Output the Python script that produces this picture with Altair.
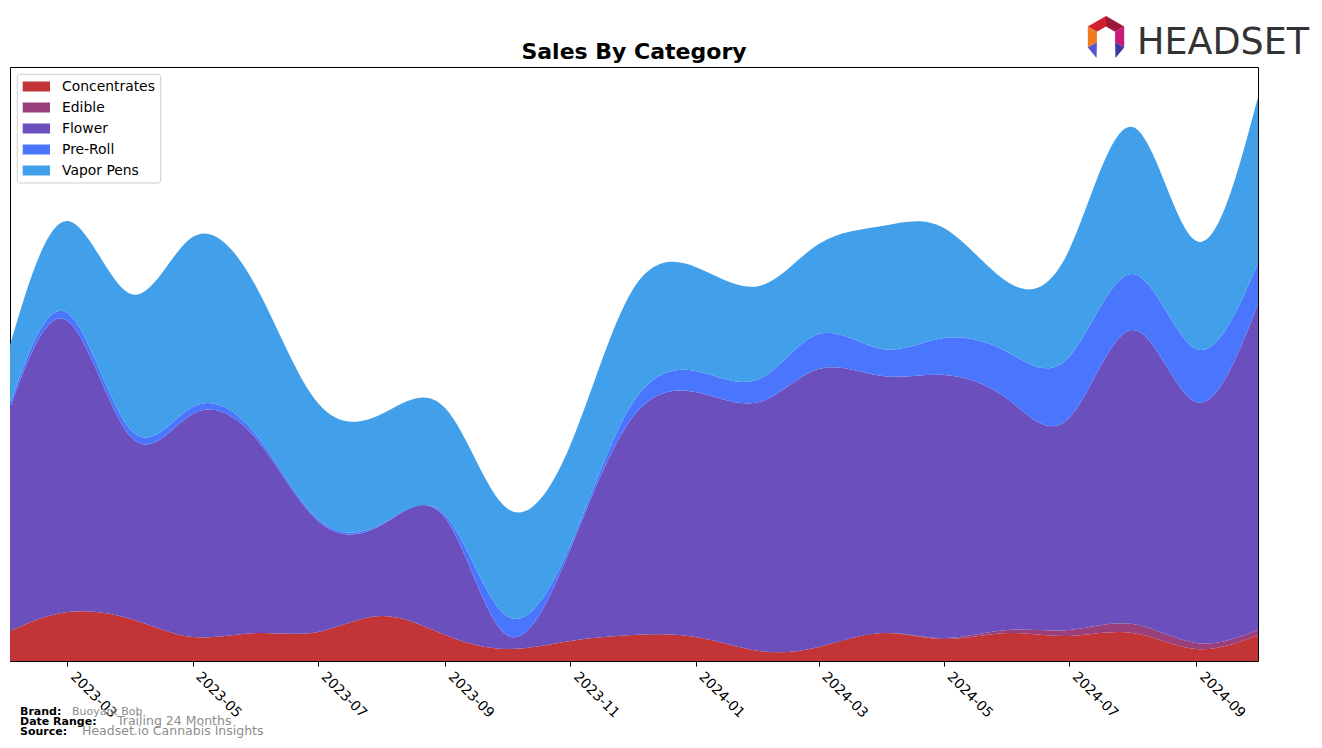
import altair as alt
import pandas as pd

# ---------------- data (pixel-height units) -------------
months = [
    "2023-02-01", "2023-03-01", "2023-04-01", "2023-05-01", "2023-06-01", "2023-07-01",
    "2023-08-01", "2023-09-01", "2023-10-01", "2023-11-01", "2023-12-01", "2024-01-01",
    "2024-02-01", "2024-03-01", "2024-04-01", "2024-05-01", "2024-06-01", "2024-07-01",
    "2024-08-01", "2024-09-01", "2024-10-01",
]
categories = ["Concentrates", "Edible", "Flower", "Pre-Roll", "Vapor Pens"]
concentrates = [30, 49, 42, 24, 28, 29, 45, 26, 12, 20, 26, 24, 10, 14, 28, 22, 28, 25, 28, 12, 26]
edible = [0, 0, 0, 0, 0, 0, 0, 0, 0, 0, 0, 0, 0, 0, 0, 1, 3, 6, 9, 6, 5]
flower = [223, 291, 182, 223, 194, 111, 91, 117, 14, 92, 217, 245, 249, 278, 257, 263, 231, 212, 294, 241, 326]
pre_roll = [4, 8, 7, 7, 4, 2, 1, 3, 19, 4, 14, 21, 23, 35, 27, 37, 47, 61, 56, 53, 41]
vapor_pens = [59, 92, 136, 170, 148, 116, 110, 107, 108, 100, 113, 104, 93, 90, 123, 110, 70, 107, 147, 108, 166]
tick_labels = ["2023-03", "2023-05", "2023-07", "2023-09", "2023-11",
               "2024-01", "2024-03", "2024-05", "2024-07", "2024-09"]
colors = ["#c23436", "#983f7c", "#6a4fbd", "#4a76fe", "#41a0e9"]

footer_keys = ["Brand:", "Date Range:", "Source:"]
footer_values = ["Buoyant Bob", "Trailing 24 Months", "Headset.io Cannabis Insights"]

# ---------------- tables ----------------
series = [concentrates, edible, flower, pre_roll, vapor_pens]
rows = []
for k, (cat, vals) in enumerate(zip(categories, series)):
    for m, v in zip(months, vals):
        rows.append({"month": m, "category": cat, "sales": v, "order": k})
df = pd.DataFrame(rows)
leg_df = pd.DataFrame({"category": categories, "row": list(range(len(categories)))})

W, H = 1248, 594
FONT = "DejaVu Sans"
color_scale = alt.Scale(domain=categories, range=colors)


def dt(s):
    return alt.DateTime(year=int(s[:4]), month=int(s[5:7]), date=1, utc=True)


x_enc = alt.X(
    "month:T",
    scale=alt.Scale(type="utc", domain=[dt(months[0]), dt(months[-1])], nice=False),
    axis=alt.Axis(
        values=[dt(t) for t in tick_labels],
        labelExpr="utcFormat(datum.value, '%Y-%m')",
        labelAngle=45, labelAlign="left", labelBaseline="bottom",
        labelFont=FONT, labelFontSize=13.9, labelColor="black", labelPadding=13,
        tickSize=5, tickColor="black", domainColor="black", grid=False, title=None,
        labelOverlap=False,
    ),
)

area = alt.Chart(df).mark_area(interpolate="natural", clip=True).encode(
    x=x_enc,
    y=alt.Y("sales:Q", stack="zero",
            scale=alt.Scale(domain=[0, H], nice=False, zero=True), axis=None),
    color=alt.Color("category:N", scale=color_scale, legend=None),
    order=alt.Order("order:Q", sort="ascending"),
)

one = pd.DataFrame({"a": [0]})

# legend (frame, swatches, labels)
leg_frame = alt.Chart(one).mark_rect(
    fill="white", fillOpacity=0.8, stroke="#cccccc", strokeWidth=1, cornerRadius=3
).encode(x=alt.value(7.3), x2=alt.value(150.7), y=alt.value(7.3), y2=alt.value(116))

leg_sw = alt.Chart(leg_df).transform_calculate(
    y0="14.5 + 21*datum.row", y1="24.5 + 21*datum.row"
).mark_rect().encode(
    x=alt.value(12.7), x2=alt.value(40),
    y=alt.Y("y0:Q", scale=None, axis=None), y2="y1:Q",
    color=alt.Color("category:N", scale=color_scale, legend=None),
)
leg_tx = alt.Chart(leg_df).transform_calculate(
    yc="20 + 21*datum.row"
).mark_text(align="left", baseline="middle", font=FONT, fontSize=13.9, color="black").encode(
    x=alt.value(52), y=alt.Y("yc:Q", scale=None, axis=None), text="category:N"
)

# title
title = alt.Chart(one).mark_text(
    text="Sales By Category", font=FONT, fontSize=22, fontWeight="bold",
    align="center", baseline="alphabetic", color="black"
).encode(x=alt.value(W / 2), y=alt.value(-8))

# footer
foot = []
key_y = [715 - 67, 725 - 67, 735 - 67]
val_x = [72 - 10, 117 - 10, 82 - 10]
val_size = [11, 12.5, 12.5]
for k, v, yy, vx, vs in zip(footer_keys, footer_values, key_y, val_x, val_size):
    foot.append(alt.Chart(one).mark_text(
        text=k, font=FONT, fontSize=11, fontWeight="bold", align="left",
        baseline="alphabetic", color="black").encode(x=alt.value(20 - 10), y=alt.value(yy)))
    foot.append(alt.Chart(one).mark_text(
        text=v, font=FONT, fontSize=vs, align="left",
        baseline="alphabetic", color="#8c8c8c").encode(x=alt.value(vx), y=alt.value(yy)))

# logo: faceted hexagon ring + wordmark
logo_paths = [
    ("M0,-1L-0.866,-0.5L-0.433,-0.25L0,-0.5Z", "#d3202f"),
    ("M0,-1L0.866,-0.5L0.433,-0.25L0,-0.5Z", "#9c1838"),
    ("M0.866,-0.5L0.866,0.5L0.433,0.25L0.433,-0.25Z", "#c9197a"),
    ("M-0.866,-0.5L-0.866,0.5L-0.433,0.25L-0.433,-0.25Z", "#f27a21"),
    ("M-0.866,0.5L-0.433,0.25L-0.45,1Z", "#5553d1"),
    ("M0.866,0.5L0.433,0.25L0.45,1Z", "#3b3aa3"),
]
logo = []
for p, c in logo_paths:
    logo.append(alt.Chart(one).mark_point(
        shape=p, filled=True, size=1764, color=c, opacity=1, strokeWidth=0
    ).encode(x=alt.value(1106 - 10), y=alt.value(37 - 67)))
logo.append(alt.Chart(one).mark_text(
    text="HEADSET", font="DejaVu Sans", fontSize=36.5,
    align="left", baseline="alphabetic", color="#333333"
).encode(x=alt.value(1137 - 10), y=alt.value(54 - 67)))

chart = alt.layer(
    area, leg_frame, leg_sw, leg_tx, title, *foot, *logo
).resolve_scale(y="independent").properties(
    width=W, height=H,
    autosize=alt.AutoSizeParams(type="none"),
    padding={"left": 10, "top": 67, "right": 64, "bottom": 87},
    background="white",
).configure_view(stroke="black", strokeWidth=1)

chart.save("out.html", embed_options={"renderer": "svg", "actions": False})
